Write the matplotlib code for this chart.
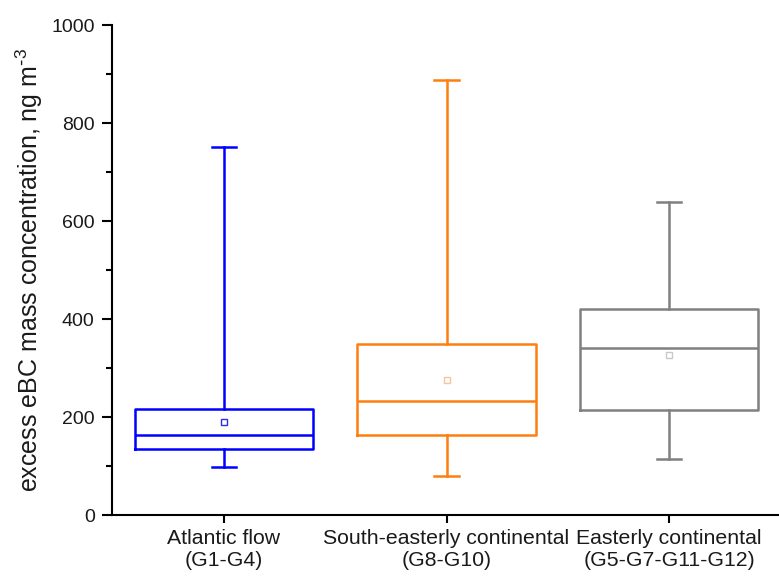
import matplotlib
matplotlib.use("Agg")
import matplotlib.pyplot as plt
from matplotlib.ticker import MultipleLocator

plt.rcParams['font.family'] = ['Liberation Sans', 'DejaVu Sans']
plt.rcParams['mathtext.default'] = 'regular'

# Data
categories = ["Atlantic flow\n(G1-G4)", "South-easterly continental\n(G8-G10)",
              "Easterly continental\n(G5-G7-G11-G12)"]
whislo = [98, 79, 115]
q1 = [134, 163, 214]
med = [163, 233, 340]
q3 = [216, 349, 420]
whishi = [751, 888, 639]
means = [190, 275, 326]
colors = ["#0000FF", "#FF7F0E", "#808080"]
mean_colors = ["#2E2EE6", "#F0C8A0", "#C8C8C8"]

# Layout
positions = [1, 2, 3]
box_width = 0.8
cap_width = 0.108

fig = plt.figure(figsize=(7.79, 5.84), dpi=100)
ax = fig.add_axes([112/779, 69/584, 667/779, 490/584])

for i in range(3):
    stats = [dict(med=med[i], q1=q1[i], q3=q3[i], whislo=whislo[i],
                  whishi=whishi[i], mean=means[i], fliers=[])]
    c = colors[i]
    lp = dict(color=c, linewidth=1.8)
    ax.bxp(stats, positions=[positions[i]], widths=[box_width], capwidths=[cap_width],
           showmeans=True, showfliers=False,
           boxprops=lp, whiskerprops=lp, capprops=lp, medianprops=lp,
           meanprops=dict(marker='s', markersize=4.5, markerfacecolor='white',
                          markeredgecolor=mean_colors[i], markeredgewidth=1.0),
           manage_ticks=False)

ax.set_xlim(0.497, 3.494)
ax.set_ylim(0, 1000)
ax.set_xticks(positions)
ax.set_xticklabels(categories, fontsize=15.3, color="#1a1a1a")
ax.yaxis.set_major_locator(MultipleLocator(200))
ax.yaxis.set_minor_locator(MultipleLocator(100))
ax.tick_params(axis='y', which='major', labelsize=14, labelcolor="#1a1a1a", length=7.5, width=1.5, direction='out', pad=5)
ax.tick_params(axis='y', which='minor', length=4.3, width=1.5, direction='out')
ax.tick_params(axis='x', which='major', length=6, width=1.5, direction='out', pad=4)
for s in ['top', 'right']:
    ax.spines[s].set_visible(False)
for s in ['left', 'bottom']:
    ax.spines[s].set_linewidth(1.5)

ax.set_ylabel("excess eBC mass concentration, ng m$^{\\text{-}3}$", fontsize=18, color="#1a1a1a")
ax.yaxis.set_label_coords(-0.1, 0.5)

fig.savefig("out.png", dpi=100)
